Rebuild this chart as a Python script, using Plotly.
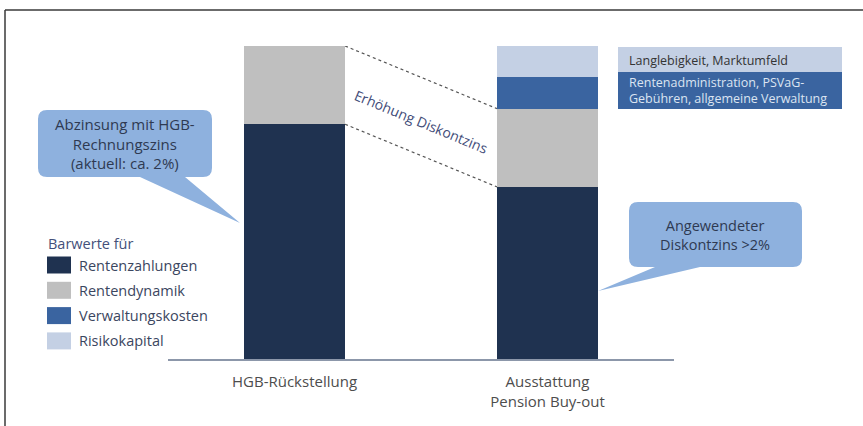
import plotly.graph_objects as go

W, H = 863, 426

# ---- data ----
categories = ["HGB-Rückstellung", "Ausstattung<br>Pension Buy-out"]
series_names = ["Rentenzahlungen", "Rentendynamik", "Verwaltungskosten", "Risikokapital"]
rentenzahlungen = [75, 55]
rentendynamik = [25, 25]
verwaltungskosten = [None, 10]
risikokapital = [None, 10]
series_values = [rentenzahlungen, rentendynamik, verwaltungskosten, risikokapital]
colors = ["#1F3250", "#BFBFBF", "#3A64A0", "#C4D0E4"]

legend_title = "Barwerte für"
label_risk = "Langlebigkeit, Marktumfeld"
label_admin = "Rentenadministration, PSVaG-<br>Gebühren, allgemeine Verwaltung"
callout_left = "Abzinsung mit HGB-<br>Rechnungszins<br>(aktuell: ca. 2%)"
callout_right = "Angewendeter<br>Diskontzins >2%"
slope_text = "Erhöhung Diskontzins"

FONT = "Open Sans"
TXT = "#3B4660"


def px(x):
    return x / W


def py(y):
    return 1 - y / H


fig = go.Figure()
for name, vals, col in zip(series_names, series_values, colors):
    fig.add_trace(go.Bar(x=[0, 1], y=vals, name=name, marker=dict(color=col, line=dict(width=0)),
                         width=0.4, showlegend=False, hoverinfo="skip"))

# dotted connector lines (bar1 right edge -> bar2 left edge)
bar1_total = rentenzahlungen[0] + rentendynamik[0]
bar2_mid = rentenzahlungen[1] + rentendynamik[1]
shapes = [
    dict(type="line", xref="x", yref="y", x0=0.2, x1=0.8, y0=bar1_total, y1=bar2_mid,
         line=dict(color="#555", width=1.2, dash="dot")),
    dict(type="line", xref="x", yref="y", x0=0.2, x1=0.8, y0=rentenzahlungen[0], y1=rentenzahlungen[1],
         line=dict(color="#555", width=1.2, dash="dot")),
]

# frame
shapes.append(dict(type="line", xref="paper", yref="paper", x0=px(5), x1=px(W + 2), y0=py(10), y1=py(10),
                   line=dict(color="#3A3A3A", width=1.5)))
shapes.append(dict(type="line", xref="paper", yref="paper", x0=px(5), x1=px(5), y0=py(10), y1=py(H + 2),
                   line=dict(color="#3A3A3A", width=1.5)))


def callout(x0, y0, x1, y1, r, base_a, base_b, tip):
    P = lambda x, y: f"{px(x):.5f},{py(y):.5f}"
    d = (f"M{P(x0 + r, y0)} L{P(x1 - r, y0)} Q{P(x1, y0)} {P(x1, y0 + r)} "
         f"L{P(x1, y1 - r)} Q{P(x1, y1)} {P(x1 - r, y1)} "
         f"L{P(base_b, y1)} L{P(tip[0], tip[1])} L{P(base_a, y1)} "
         f"L{P(x0 + r, y1)} Q{P(x0, y1)} {P(x0, y1 - r)} L{P(x0, y0 + r)} Q{P(x0, y0)} {P(x0 + r, y0)} Z")
    return dict(type="path", xref="paper", yref="paper", path=d, fillcolor="#8EB1DE",
                line=dict(width=0))


shapes.append(callout(38, 110, 212, 177, 9, 140, 185, (240, 223)))
shapes.append(callout(629, 202, 802, 267, 9, 655, 700, (598, 291)))

# right-side label boxes
shapes.append(dict(type="rect", xref="paper", yref="paper", x0=px(618), x1=px(842), y0=py(47), y1=py(72),
                   fillcolor=colors[3], line=dict(width=0)))
shapes.append(dict(type="rect", xref="paper", yref="paper", x0=px(618), x1=px(842), y0=py(72), y1=py(109),
                   fillcolor=colors[2], line=dict(width=0)))

annotations = []
# legend (custom)
annotations.append(dict(x=px(46), y=py(243), xref="paper", yref="paper", text=legend_title, showarrow=False,
                        xanchor="left", yanchor="middle", font=dict(family=FONT, size=14.5, color="#44507A")))
for i, (name, col) in enumerate(zip(series_names, colors)):
    yc = 265 + i * 25.3
    shapes.append(dict(type="rect", xref="paper", yref="paper", x0=px(47), x1=px(71), y0=py(yc - 8.5),
                       y1=py(yc + 8.5), fillcolor=col, line=dict(width=0)))
    annotations.append(dict(x=px(77), y=py(yc), xref="paper", yref="paper", text=name, showarrow=False,
                            xanchor="left", yanchor="middle", font=dict(family=FONT, size=14.5, color=TXT)))

annotations += [
    dict(x=px(125), y=py(143), xref="paper", yref="paper", text=callout_left, showarrow=False,
         xanchor="center", yanchor="middle", align="center",
         font=dict(family=FONT, size=15, color="#2E3A52")),
    dict(x=px(715), y=py(235), xref="paper", yref="paper", text=callout_right, showarrow=False,
         xanchor="center", yanchor="middle", align="center",
         font=dict(family=FONT, size=14.5, color="#2E3A52")),
    dict(x=px(627), y=py(60), xref="paper", yref="paper", text=label_risk, showarrow=False,
         xanchor="left", yanchor="middle", align="left", font=dict(family=FONT, size=12.5, color="#333")),
    dict(x=px(627), y=py(91), xref="paper", yref="paper", text=label_admin, showarrow=False,
         xanchor="left", yanchor="middle", align="left", font=dict(family=FONT, size=12.5, color="#DCE5F2")),
    dict(x=0.5, y=76, xref="x", yref="y", text=slope_text, showarrow=False, textangle=22.5,
         font=dict(family=FONT, size=14, color="#3F4C78")),
]

x0p, x1p = 168, 674
base, top = 359, 46
fig.update_layout(
    width=W, height=H, margin=dict(l=0, r=0, t=0, b=0),
    paper_bgcolor="white", plot_bgcolor="white",
    barmode="stack", bargap=0,
    shapes=shapes, annotations=annotations,
    xaxis=dict(domain=[px(x0p), px(x1p)], range=[-0.5, 1.5], tickmode="array", tickvals=[0, 1],
               ticktext=categories, showline=True, linecolor="#8C97AA", linewidth=2,
               showgrid=False, zeroline=False, ticks="", ticklabelstandoff=8,
               tickfont=dict(family=FONT, size=15, color="#4D4D4D")),
    yaxis=dict(domain=[py(base), py(top)], range=[0, 100], visible=False, showgrid=False, zeroline=False),
    showlegend=False,
)

fig.write_html("out.html")
